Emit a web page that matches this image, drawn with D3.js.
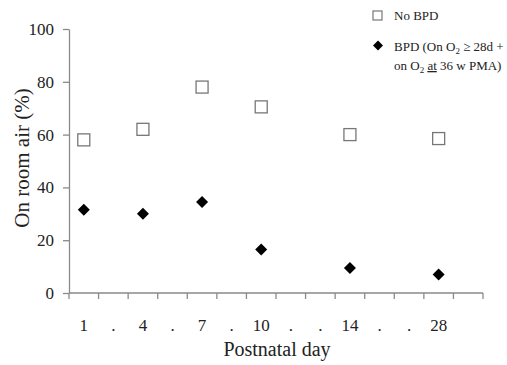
<!DOCTYPE html>
<html>
<head>
  <meta charset="utf-8">
  <style>
    body { margin: 0; background: #fff; }
    text { font-family: "Liberation Serif", "Times New Roman", serif; fill: #222; }
    .axis path, .axis line { stroke: #8a8a8a; stroke-width: 1.3px; }
  </style>
</head>
<body>
  <div id="chart"></div>
  <script src="https://d3js.org/d3.v7.min.js"></script>
  <script>
    // category slots along the x axis (dots are spacer slots)
    const slots = ["1", ".", "4", ".", "7", ".", "10", ".", ".", "14", ".", ".", "28", ""];
    const days = ["1", "4", "7", "10", "14", "28"];
    const noBPD = [58, 62, 78, 70.5, 60, 58.5];
    const bpd = [31.5, 30, 34.5, 16.5, 9.5, 7];
    const yTicks = [0, 20, 40, 60, 80, 100];

    const width = 507, height = 365;
    const margin = { left: 69, right: 24, top: 29, bottom: 72 };

    const svg = d3.select("#chart").append("svg")
      .attr("width", width)
      .attr("height", height);

    const x = d3.scaleBand()
      .domain(slots.map((d, i) => i))
      .range([margin.left, width - margin.right]);

    const y = d3.scaleLinear()
      .domain([0, 100])
      .range([height - margin.bottom, margin.top]);

    // y axis
    const yAxis = svg.append("g")
      .attr("class", "axis")
      .attr("transform", `translate(${margin.left},0)`)
      .call(d3.axisLeft(y).tickValues(yTicks).tickSize(6).tickSizeOuter(0).tickPadding(9));
    yAxis.selectAll("text").style("font-size", "17px");

    // x axis: ticks on the band edges
    const edges = slots.map((d, i) => x(i)).concat([x.range()[1]]);
    const xAxis = svg.append("g").attr("class", "axis");
    xAxis.append("line")
      .attr("x1", x.range()[0]).attr("x2", x.range()[1])
      .attr("y1", y(0)).attr("y2", y(0));
    xAxis.selectAll("line.tick").data(edges).join("line")
      .attr("class", "tick")
      .attr("x1", d => d).attr("x2", d => d)
      .attr("y1", y(0)).attr("y2", y(0) + 6);

    svg.append("g").selectAll("text").data(slots).join("text")
      .attr("x", (d, i) => x(i) + x.bandwidth() / 2)
      .attr("y", y(0) + 38)
      .attr("text-anchor", "middle")
      .style("font-size", "17px")
      .text(d => d);

    // axis titles
    svg.append("text")
      .attr("x", (x.range()[0] + x.range()[1]) / 2 + 1)
      .attr("y", 356)
      .attr("text-anchor", "middle")
      .style("font-size", "20px")
      .text("Postnatal day");

    svg.append("text")
      .attr("transform", `translate(29,158) rotate(-90)`)
      .attr("text-anchor", "middle")
      .style("font-size", "21px")
      .text("On room air (%)");

    const xDay = d => x(slots.indexOf(d)) + x.bandwidth() / 2;

    // No BPD: open squares
    svg.append("g").selectAll("rect").data(days).join("rect")
      .attr("x", (d, i) => xDay(d) - 6)
      .attr("y", (d, i) => y(noBPD[i]) - 6)
      .attr("width", 12).attr("height", 12)
      .attr("fill", "#fff")
      .attr("stroke", "#777")
      .attr("stroke-width", 1.3);

    // BPD: filled diamonds
    const diamond = d3.symbol().type(d3.symbolSquare).size(72);
    svg.append("g").selectAll("path").data(days).join("path")
      .attr("d", diamond)
      .attr("transform", (d, i) => `translate(${xDay(d)},${y(bpd[i])}) rotate(45)`)
      .attr("fill", "#000");

    // legend
    const lg = svg.append("g");
    lg.append("rect")
      .attr("x", 373).attr("y", 11).attr("width", 9).attr("height", 9)
      .attr("fill", "#fff").attr("stroke", "#777").attr("stroke-width", 1.2);
    lg.append("text").attr("x", 394).attr("y", 20)
      .style("font-size", "13px").text("No BPD");

    lg.append("path")
      .attr("d", d3.symbol().type(d3.symbolSquare).size(50))
      .attr("transform", "translate(378,45.5) rotate(45)")
      .attr("fill", "#000");

    const l1 = lg.append("text").attr("x", 394).attr("y", 51).style("font-size", "13px");
    l1.append("tspan").text("BPD (On O");
    l1.append("tspan").attr("dy", 3).style("font-size", "9px").text("2");
    l1.append("tspan").attr("dy", -3).text(" \u2265 28d +");

    const l2 = lg.append("text").attr("x", 394).attr("y", 70).style("font-size", "13px");
    l2.append("tspan").text("on O");
    l2.append("tspan").attr("dy", 3).style("font-size", "9px").text("2");
    l2.append("tspan").attr("dy", -3).text(" ");
    l2.append("tspan").style("text-decoration", "underline").text("at");
    l2.append("tspan").text(" 36 w PMA)");
  </script>
</body>
</html>
